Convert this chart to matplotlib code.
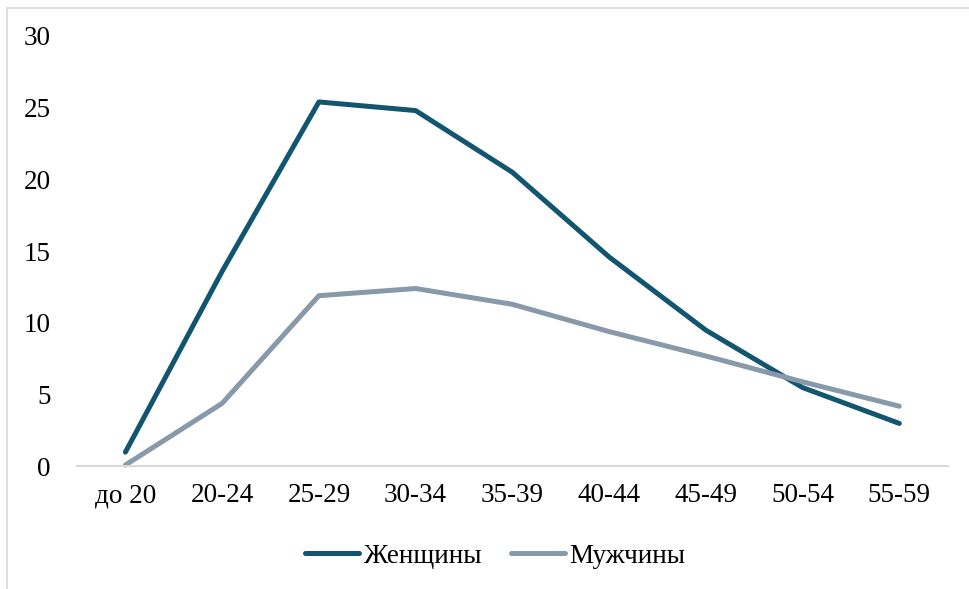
import matplotlib
matplotlib.use('Agg')
import matplotlib.pyplot as plt
from matplotlib.patches import Rectangle

plt.rcParams['font.family'] = ['Liberation Serif', 'DejaVu Serif']

# Данные
categories = ['до 20', '20-24', '25-29', '30-34', '35-39', '40-44', '45-49', '50-54', '55-59']
women = [1.0, 13.6, 25.4, 24.8, 20.5, 14.6, 9.5, 5.5, 3.0]
men = [0.1, 4.4, 11.9, 12.4, 11.3, 9.4, 7.7, 5.9, 4.2]
y_ticks = [0, 5, 10, 15, 20, 25, 30]

fig = plt.figure(figsize=(9.69, 5.89), dpi=100)
ax = fig.add_axes([0.0795, 0.208, 0.8985, 0.731])

x = range(len(categories))
ax.plot(x, women, color='#115571', lw=3.6, solid_capstyle='round', solid_joinstyle='round', label='Женщины')
ax.plot(x, men, color='#8899aa', lw=3.6, solid_capstyle='round', solid_joinstyle='round', label='Мужчины')

ax.set_xlim(-0.5, len(categories) - 0.5)
ax.set_ylim(0, 30)
ax.set_yticks(y_ticks)
ax.set_xticks(list(x))
ax.set_xticklabels(categories)
ax.tick_params(axis='y', length=0, pad=19, labelsize=19.5)
ax.tick_params(axis='x', length=0, pad=12, labelsize=19.5)

for side in ['top', 'right', 'left']:
    ax.spines[side].set_visible(False)
ax.spines['bottom'].set_color('#d9d9d9')
ax.spines['bottom'].set_linewidth(1.5)
ax.set_clip_on(False)
for line in ax.lines:
    line.set_clip_on(False)

# Легенда внизу
fig.legend(loc='center', bbox_to_anchor=(0.511, 0.056), ncol=2, frameon=False,
           fontsize=19.5, handlelength=2.0, handletextpad=0.15, columnspacing=1.1)

# Рамка вокруг диаграммы
fig.patches.append(Rectangle((7 / 969, -0.01), 1.0, 1 - 8 / 589 + 0.01, transform=fig.transFigure,
                             fill=False, edgecolor='#d9d9d9', lw=1.2))

fig.savefig('out.png', dpi=100)
